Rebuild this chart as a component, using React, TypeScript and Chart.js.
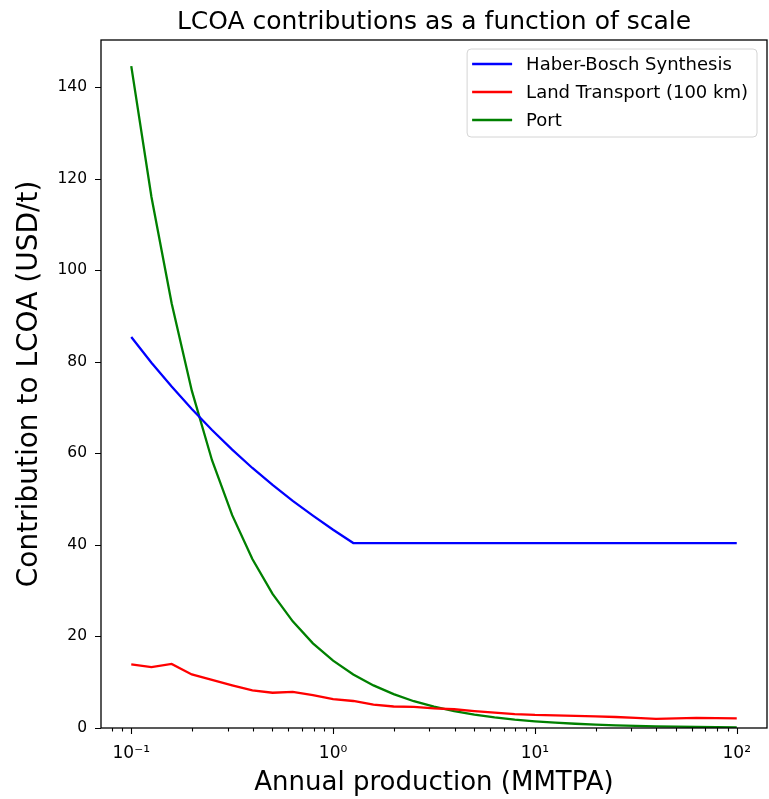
import React, { useEffect, useRef } from "react";
import { Chart, registerables } from "chart.js";

Chart.register(...registerables);

const TITLE = "LCOA contributions as a function of scale";
const X_TITLE = "Annual production (MMTPA)";
const Y_TITLE = "Contribution to LCOA (USD/t)";

const PRODUCTION = [
  0.1, 0.1259, 0.1585, 0.1995, 0.2512, 0.3162, 0.3981, 0.5012, 0.631, 0.7943,
  1, 1.259, 1.585, 1.995, 2.512, 3.162, 3.981, 5.012, 6.31, 7.943,
  10, 12.59, 15.85, 19.95, 25.12, 31.62, 39.81, 50.12, 63.1, 79.43, 100,
];

const HABER_BOSCH = [
  85.4, 79.8, 74.6, 69.7, 65.1, 60.8, 56.8, 53.1, 49.6, 46.4,
  43.3, 40.4, 40.4, 40.4, 40.4, 40.4, 40.4, 40.4, 40.4, 40.4,
  40.4, 40.4, 40.4, 40.4, 40.4, 40.4, 40.4, 40.4, 40.4, 40.4, 40.4,
];

const LAND_TRANSPORT = [
  13.9, 13.3, 14.0, 11.7, 10.5, 9.3, 8.2, 7.7, 7.9, 7.2,
  6.3, 5.9, 5.1, 4.7, 4.6, 4.3, 4.1, 3.7, 3.35, 3.05,
  2.85, 2.75, 2.65, 2.55, 2.4, 2.2, 2.0, 2.1, 2.2, 2.15, 2.1,
];

const PORT = [
  144.6, 116.0, 92.8, 73.7, 58.5, 46.5, 36.9, 29.3, 23.3, 18.5,
  14.7, 11.7, 9.3, 7.4, 5.85, 4.65, 3.7, 2.93, 2.33, 1.85,
  1.47, 1.17, 0.93, 0.74, 0.59, 0.46, 0.37, 0.29, 0.23, 0.19, 0.15,
];

const SERIES_LABELS = ["Haber-Bosch Synthesis", "Land Transport (100 km)", "Port"];
const SERIES_COLORS = ["#0000ff", "#ff0000", "#008000"];

const X_MAJOR = [0.1, 1, 10, 100];
const X_MAJOR_LABELS = ["10\u207B\u00B9", "10\u2070", "10\u00B9", "10\u00B2"];
const X_MINOR = [
  0.08, 0.09, 0.2, 0.3, 0.4, 0.5, 0.6, 0.7, 0.8, 0.9,
  2, 3, 4, 5, 6, 7, 8, 9, 20, 30, 40, 50, 60, 70, 80, 90,
];
const Y_TICKS = [0, 20, 40, 60, 80, 100, 120, 140];

const X_MIN = 0.0708;
const X_MAX = 141.2;
const Y_MIN = 0;
const Y_MAX = 150.3;

const FONT = "'DejaVu Sans', 'Liberation Sans', sans-serif";

const mplPlugin = {
  id: "mplFrame",
  afterDatasetsDraw(chart: any) {
    const { ctx, chartArea: a, scales } = chart;
    const xs = scales.x;
    const ys = scales.y;
    ctx.save();

    // title centred over the plot area
    ctx.font = `25px ${FONT}`;
    ctx.fillStyle = "#000";
    ctx.textAlign = "center";
    ctx.textBaseline = "alphabetic";
    ctx.fillText(TITLE, (a.left + a.right) / 2, 29);

    // frame
    ctx.strokeStyle = "#000";
    ctx.lineWidth = 1.3;
    ctx.strokeRect(a.left, a.top, a.right - a.left, a.bottom - a.top);
    // ticks
    ctx.lineWidth = 1.1;
    ctx.beginPath();
    for (const v of X_MAJOR) {
      const px = Math.round(xs.getPixelForValue(v)) + 0.5;
      ctx.moveTo(px, a.bottom);
      ctx.lineTo(px, a.bottom + 6);
    }
    for (const v of X_MINOR) {
      const px = Math.round(xs.getPixelForValue(v)) + 0.5;
      ctx.moveTo(px, a.bottom);
      ctx.lineTo(px, a.bottom + 3.5);
    }
    for (const v of Y_TICKS) {
      const py = Math.round(ys.getPixelForValue(v)) + 0.5;
      ctx.moveTo(a.left, py);
      ctx.lineTo(a.left - 6, py);
    }
    ctx.stroke();

    // legend inside chart area (upper right)
    ctx.font = `18px ${FONT}`;
    const labels = chart.data.datasets.map((d: any) => d.label);
    const maxW = Math.max(...labels.map((l: string) => ctx.measureText(l).width));
    const boxRight = a.right - 10;
    const boxTop = a.top + 9;
    const boxW = 59 + maxW + 9;
    const boxH = 88;
    const boxLeft = boxRight - boxW;
    const r = 4;
    ctx.beginPath();
    ctx.moveTo(boxLeft + r, boxTop);
    ctx.lineTo(boxRight - r, boxTop);
    ctx.quadraticCurveTo(boxRight, boxTop, boxRight, boxTop + r);
    ctx.lineTo(boxRight, boxTop + boxH - r);
    ctx.quadraticCurveTo(boxRight, boxTop + boxH, boxRight - r, boxTop + boxH);
    ctx.lineTo(boxLeft + r, boxTop + boxH);
    ctx.quadraticCurveTo(boxLeft, boxTop + boxH, boxLeft, boxTop + boxH - r);
    ctx.lineTo(boxLeft, boxTop + r);
    ctx.quadraticCurveTo(boxLeft, boxTop, boxLeft + r, boxTop);
    ctx.closePath();
    ctx.fillStyle = "rgba(255,255,255,0.8)";
    ctx.fill();
    ctx.strokeStyle = "#d4d4d4";
    ctx.lineWidth = 1;
    ctx.stroke();

    chart.data.datasets.forEach((d: any, i: number) => {
      const yy = boxTop + 15 + i * 28;
      ctx.strokeStyle = d.borderColor;
      ctx.lineWidth = 2.4;
      ctx.beginPath();
      ctx.moveTo(boxLeft + 5, yy);
      ctx.lineTo(boxLeft + 45, yy);
      ctx.stroke();
      ctx.fillStyle = "#000";
      ctx.textAlign = "left";
      ctx.textBaseline = "middle";
      ctx.fillText(d.label, boxLeft + 59, yy + 1);
    });
    ctx.restore();
  },
};

export default function App() {
  const canvasRef = useRef<HTMLCanvasElement | null>(null);

  useEffect(() => {
    const canvas = canvasRef.current;
    if (!canvas) return;
    const seriesValues = [HABER_BOSCH, LAND_TRANSPORT, PORT];
    const chart = new Chart(canvas, {
      type: "line",
      data: {
        datasets: seriesValues.map((vals, i) => ({
          label: SERIES_LABELS[i],
          data: PRODUCTION.map((x, j) => ({ x, y: vals[j] })),
          borderColor: SERIES_COLORS[i],
          backgroundColor: SERIES_COLORS[i],
          borderWidth: 2.3,
          pointRadius: 0,
          tension: 0,
          fill: false,
        })),
      },
      options: {
        responsive: false,
        maintainAspectRatio: false,
        animation: false,
        devicePixelRatio: 1,
        layout: { padding: { left: 0, right: 2, top: 40, bottom: 0 } },
        plugins: {
          legend: { display: false },
          tooltip: { enabled: false },
          title: { display: false },
        },
        scales: {
          x: {
            type: "logarithmic",
            min: X_MIN,
            max: X_MAX,
            grid: { display: false, drawTicks: false },
            border: { display: false },
            afterBuildTicks: (scale: any) => {
              scale.ticks = X_MAJOR.map((v) => ({ value: v }));
            },
            afterFit: (scale: any) => {
              scale.height = 71;
            },
            ticks: {
              autoSkip: false,
              maxRotation: 0,
              padding: 15,
              color: "#000",
              font: { family: FONT, size: 17 },
              callback: (value: any) => {
                const idx = X_MAJOR.indexOf(Number(value));
                return idx >= 0 ? X_MAJOR_LABELS[idx] : "";
              },
            },
            title: {
              display: true,
              text: X_TITLE,
              color: "#000",
              font: { family: FONT, size: 26, lineHeight: 1.2 },
              padding: { top: 0, bottom: 0 },
            },
          },
          y: {
            type: "linear",
            min: Y_MIN,
            max: Y_MAX,
            grid: { display: false, drawTicks: false },
            border: { display: false },
            afterBuildTicks: (scale: any) => {
              scale.ticks = Y_TICKS.map((v) => ({ value: v }));
            },
            afterFit: (scale: any) => {
              scale.width = 101;
            },
            ticks: {
              autoSkip: false,
              padding: 14,
              color: "#000",
              font: { family: FONT, size: 15.5 },
              callback: (value: any) => String(value),
            },
            title: {
              display: true,
              text: Y_TITLE,
              color: "#000",
              font: { family: FONT, size: 28, lineHeight: 1.2 },
              padding: { top: 13, bottom: 0 },
            },
          },
        },
      },
      plugins: [mplPlugin],
    } as any);
    return () => chart.destroy();
  }, []);

  return (
    <div style={{ position: "absolute", left: 0, top: 0, width: 769, height: 799, background: "#fff" }}>
      <canvas ref={canvasRef} width={769} height={799} style={{ width: 769, height: 799, display: "block" }} />
    </div>
  );
}
